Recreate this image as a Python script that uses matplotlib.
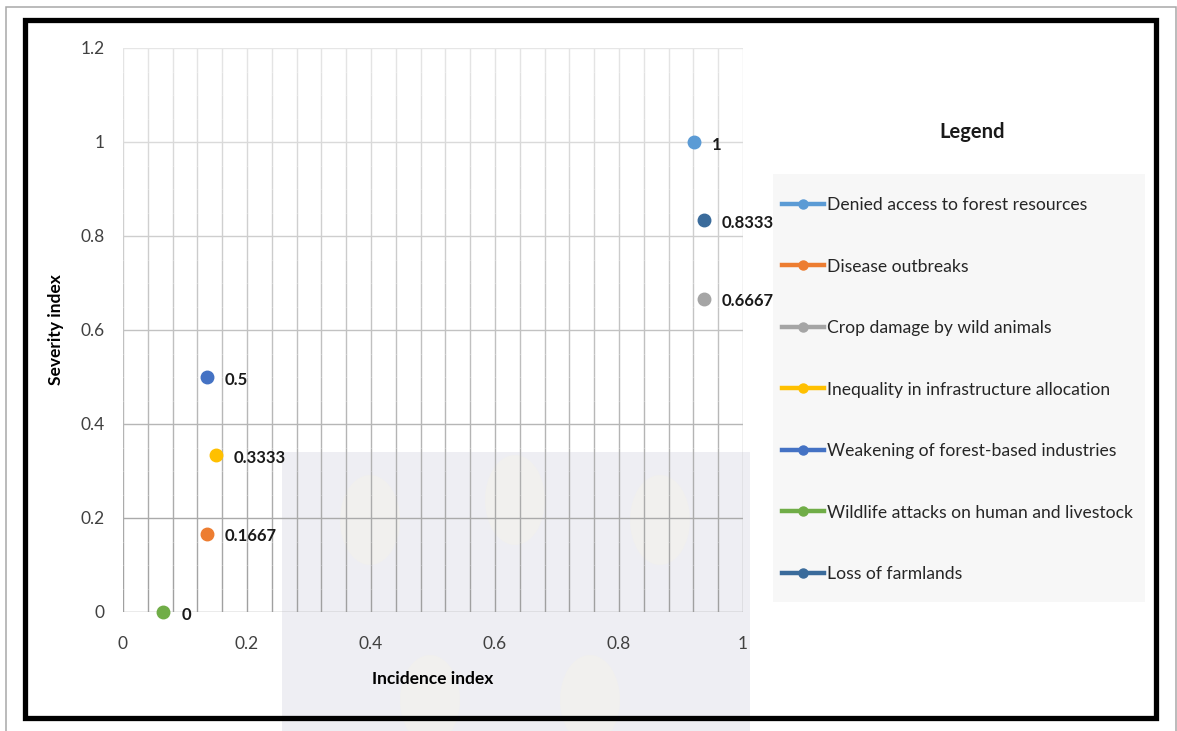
import matplotlib
matplotlib.use("Agg")
import matplotlib.pyplot as plt
from matplotlib.lines import Line2D
from matplotlib.patches import Rectangle, Ellipse
import numpy as np

plt.rcParams["font.family"] = ["Lato", "DejaVu Sans"]

# incidence / severity indices per problem
problems = [
    "Denied access to forest resources",
    "Disease outbreaks",
    "Crop damage by wild animals",
    "Inequality in infrastructure allocation",
    "Weakening of forest-based industries",
    "Wildlife attacks on human and livestock",
    "Loss of farmlands",
]
incidence = [0.921, 0.135, 0.937, 0.150, 0.135, 0.065, 0.937]
severity = [1.0, 0.1667, 0.6667, 0.3333, 0.5, 0.0, 0.8333]
value_labels = ["1", "0.1667", "0.6667", "0.3333", "0.5", "0", "0.8333"]
colors = ["#5B9BD5", "#ED7D31", "#A5A5A5", "#FFC000", "#4472C4", "#70AD47", "#3A6B9B"]

x_ticks = [0, 0.2, 0.4, 0.6, 0.8, 1]
x_tick_labels = ["0", "0.2", "0.4", "0.6", "0.8", "1"]
y_ticks = [0, 0.2, 0.4, 0.6, 0.8, 1, 1.2]
y_tick_labels = ["0", "0.2", "0.4", "0.6", "0.8", "1", "1.2"]

W, H = 1177, 731
fig = plt.figure(figsize=(W / 100, H / 100), dpi=100)


def fx(px):
    return px / W


def fy(py):
    return 1 - py / H


# faint background watermark
fig.patches.append(Rectangle((fx(282), 0), fx(750) - fx(282), fy(452), transform=fig.transFigure,
                             facecolor="#EEEEF3", edgecolor="none", zorder=-2))
for cx, cy in [(370, 520), (515, 500), (660, 520), (430, 700), (590, 700)]:
    fig.patches.append(Ellipse((fx(cx), fy(cy)), fx(60), 90 / H, transform=fig.transFigure,
                               facecolor="#F1F0EE", edgecolor="none", zorder=-1.5))

# legend panel background
fig.patches.append(Rectangle((fx(773), fy(602)), fx(1145) - fx(773), fy(174) - fy(602),
                             transform=fig.transFigure, facecolor="#F7F7F7",
                             edgecolor="none", zorder=-1))

# page frames
fig.patches.append(Rectangle((fx(6), fy(760)), fx(1176) - fx(6), fy(7) - fy(760),
                             transform=fig.transFigure, fill=False, edgecolor="#A8A8A8",
                             lw=1.1, zorder=5))
fig.patches.append(Rectangle((fx(25), fy(718)), fx(1156) - fx(25), fy(20) - fy(718),
                             transform=fig.transFigure, fill=False, edgecolor="black",
                             lw=3.8, zorder=5))

ax = fig.add_axes([fx(123), fy(612), fx(743) - fx(123), fy(48) - fy(612)])
ax.set_facecolor("none")
ax.set_xlim(0, 1)
ax.set_ylim(0, 1.2)
ax.set_xticks(x_ticks, x_tick_labels)
ax.set_yticks(y_ticks, y_tick_labels)

# grid shades from darker at the bottom to light at the top
grid_x = np.linspace(0, 1, 26)
edges = np.linspace(0, 1.2, 25)
for lo, hi in zip(edges[:-1], edges[1:]):
    t = (lo + hi) / 2 / 1.2
    g = 0.62 + 0.28 * t
    ax.vlines(grid_x, lo, hi, color=(g, g, g), lw=1.0, zorder=0)
for yv in y_ticks:
    g = 0.62 + 0.28 * (yv / 1.2)
    ax.axhline(yv, color=(g, g, g), lw=1.0, zorder=0)

for s in ax.spines.values():
    s.set_visible(False)
ax.tick_params(which="both", length=0, labelsize=12.5, colors="#404040")
ax.tick_params(axis="x", pad=17)
ax.tick_params(axis="y", pad=13)

for x, y, lab, c in zip(incidence, severity, value_labels, colors):
    ax.plot(x, y, "o", ms=9, color=c, zorder=3, clip_on=False)
    ax.annotate(lab, (x, y), xytext=(13, -2), textcoords="offset points",
                va="center", ha="left", fontsize=12, fontweight="bold", color="#1A1A1A")

ax.set_xlabel("Incidence index", fontsize=12.5, fontweight="bold", labelpad=14)
ax.set_ylabel("Severity index", fontsize=12.5, fontweight="bold", labelpad=12)

handles = [Line2D([], [], color=c, lw=3.2, marker="o", ms=6.5) for c in colors]
leg = fig.legend(handles, problems, loc="upper left",
                 bbox_to_anchor=(fx(782), fy(197)), bbox_transform=fig.transFigure,
                 frameon=False, fontsize=12.6, handlelength=2.4, handletextpad=0.15,
                 labelspacing=2.6, borderpad=0, borderaxespad=0)
for t in leg.get_texts():
    t.set_color("#262626")
fig.text(fx(972), fy(132), "Legend", ha="center", va="center",
         fontsize=14.5, fontweight="bold", color="#1A1A1A")

fig.savefig("out.png", dpi=100)
